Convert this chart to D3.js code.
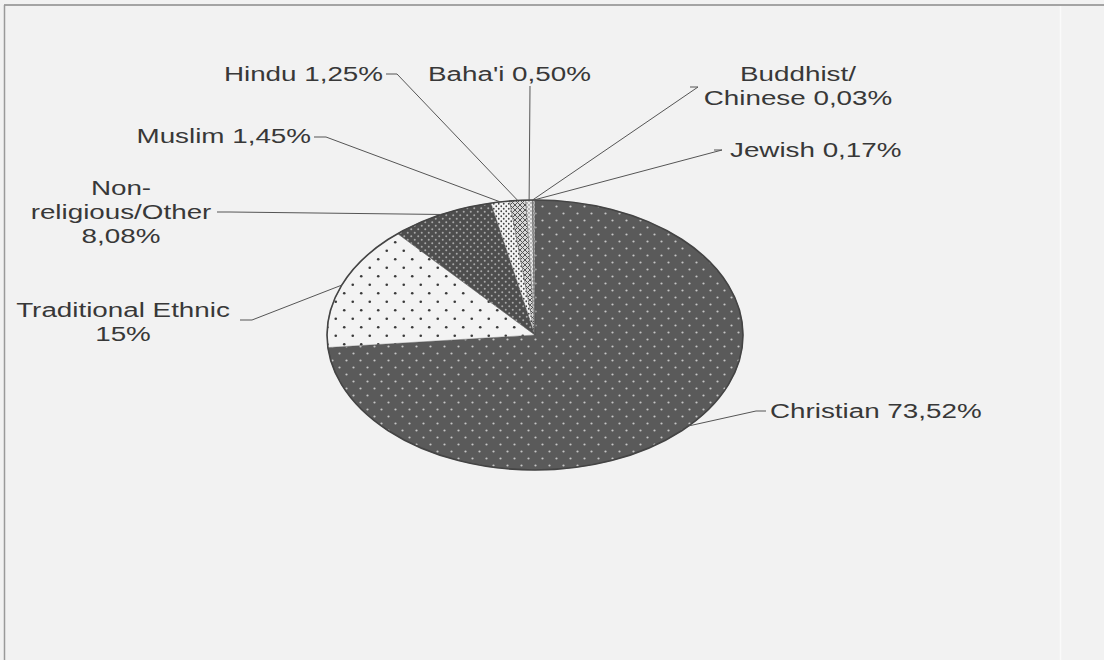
<!DOCTYPE html>
<html><head><meta charset="utf-8">
<script src="https://cdn.jsdelivr.net/npm/d3@7"></script>
<style>html,body{margin:0;padding:0;background:#f2f2f2;}svg{display:block;}</style>
</head><body>
<svg id="c" width="1104" height="660"></svg>
<script>
const categories = ["Christian","Traditional Ethnic","Non-religious/Other","Muslim","Hindu","Baha'i","Buddhist/Chinese","Jewish"];
const values = [73.52, 15, 8.08, 1.45, 1.25, 0.50, 0.03, 0.17];
const labelLines = [["Christian 73,52%"],["Traditional Ethnic","15%"],["Non-","religious/Other","8,08%"],["Muslim 1,45%"],["Hindu 1,25%"],["Baha'i 0,50%"],["Buddhist/","Chinese 0,03%"],["Jewish 0,17%"]];

const svg = d3.select("#c");
const W=1104,H=660;
svg.append("rect").attr("width",W).attr("height",H).attr("fill","#f2f2f2");
// frame
svg.append("line").attr("x1",4).attr("y1",5).attr("x2",W).attr("y2",5).attr("stroke","#8a8a8a").attr("stroke-width",1.5);
svg.append("line").attr("x1",4.5).attr("y1",5).attr("x2",4.5).attr("y2",H).attr("stroke","#9a9a9a").attr("stroke-width",1.5);
svg.append("line").attr("x1",1060.5).attr("y1",6).attr("x2",1060.5).attr("y2",H).attr("stroke","#fafafa").attr("stroke-width",1.5);

const defs = svg.append("defs");
function dotPattern(id,bg,fg,w,r){
  const p=defs.append("pattern").attr("id",id).attr("patternUnits","userSpaceOnUse").attr("width",w).attr("height",w);
  p.append("rect").attr("width",w).attr("height",w).attr("fill",bg);
  p.append("circle").attr("cx",w/4).attr("cy",w/4).attr("r",r).attr("fill",fg);
  p.append("circle").attr("cx",3*w/4).attr("cy",3*w/4).attr("r",r).attr("fill",fg);
}
dotPattern("pChr","#5a5a5a","#c4c4c4",14,1.1);
dotPattern("pTrad","#f3f3f3","#3a3a3a",17,1.3);
dotPattern("pNon","#4e4e4e","#a8a8a8",7,1.0);
dotPattern("pMus","#f4f4f4","#444",5,0.9);
(function(){
  const p=defs.append("pattern").attr("id","pHin").attr("patternUnits","userSpaceOnUse").attr("width",5).attr("height",5);
  p.append("rect").attr("width",5).attr("height",5).attr("fill","#d8d8d8");
  p.append("path").attr("d","M0,0L5,5M5,0L0,5").attr("stroke","#555").attr("stroke-width",1);
})();
dotPattern("pBah","#e8e8e8","#666",4,0.7);
dotPattern("pBud","#bbbbbb","#555",4,0.8);
dotPattern("pJew","#9a9a9a","#eee",4,0.8);
const fills=["url(#pChr)","url(#pTrad)","url(#pNon)","url(#pMus)","url(#pHin)","url(#pBah)","url(#pBud)","url(#pJew)"];

const cx=535, cy=335, rx=208, ry=135;
const pt=(a,k=1)=>[cx+rx*k*Math.sin(a), cy-ry*k*Math.cos(a)];
const pie=d3.pie().sort(null).value(d=>d)(values);

const g=svg.append("g");
pie.forEach((d,i)=>{
  const [x0,y0]=pt(d.startAngle), [x1,y1]=pt(d.endAngle);
  const large=(d.endAngle-d.startAngle)>Math.PI?1:0;
  g.append("path").attr("d",`M${cx},${cy}L${x0},${y0}A${rx},${ry} 0 ${large} 1 ${x1},${y1}Z`)
   .attr("fill",fills[i]).attr("stroke","#555").attr("stroke-width",0.4);
});
g.append("ellipse").attr("cx",cx).attr("cy",cy).attr("rx",rx).attr("ry",ry).attr("fill","none").attr("stroke","#444").attr("stroke-width",1.6);

const labelPos=[
  {x:770,y:418,a:"start",l:[[766,411],[756,411]]},
  {x:123,y:317,a:"middle",l:[[240,320],[252,320]]},
  {x:121,y:195,a:"middle",l:[[217,212],[230,212]]},
  {x:311,y:143,a:"end",l:[[314,137],[326,137]]},
  {x:383,y:81,a:"end",l:[[386,74],[397,74]]},
  {x:428,y:81,a:"start",l:[[530,86],[530,86]]},
  {x:798,y:81,a:"middle",l:[[690,87],[698,87]]},
  {x:730,y:157,a:"start",l:[[714,150],[722,150]]}
];
const sx=1.39;
pie.forEach((d,i)=>{
  const lp=labelPos[i];
  const m=(d.startAngle+d.endAngle)/2;
  const e=pt(m);
  svg.append("polyline").attr("points",[lp.l[0],lp.l[1],e].map(p=>p.join(",")).join(" "))
    .attr("fill","none").attr("stroke","#555").attr("stroke-width",1);
  const t=svg.append("text").attr("transform",`translate(${lp.x},${lp.y}) scale(${sx},1)`)
    .attr("text-anchor",lp.a).attr("font-family","Liberation Sans, Arial, sans-serif")
    .attr("font-size",20).attr("fill","#383838");
  labelLines[i].forEach((s,j)=>t.append("tspan").attr("x",0).attr("y",j*24).text(s));
});
</script>
</body></html>
